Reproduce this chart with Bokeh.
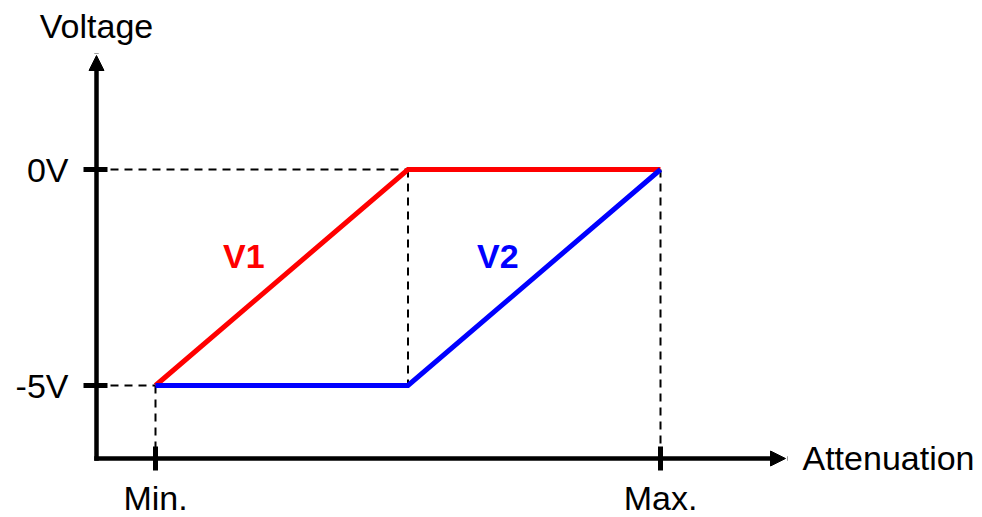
from bokeh.plotting import figure
from bokeh.models import Range1d, FixedTicker, Arrow, NormalHead, Label
from bokeh.embed import file_html
from bokeh.resources import INLINE

# ---- data ----
x_pts = [0.0, 0.5, 1.0]          # attenuation: Min., breakpoint, Max.
v1 = [-5, 0, 0]                  # V1 (volts)
v2 = [-5, -5, 0]                 # V2 (volts)
series_names = ["V1", "V2"]
x_ticks = [0, 1]
x_tick_labels = ["Min.", "Max."]
y_ticks = [-5, 0]
y_tick_labels = ["-5V", "0V"]
x_title = "Attenuation"
y_title = "Voltage"

FONT = "Liberation Sans"
FS = "34px"
RED = "#FF0000"
BLUE = "#0000FF"

# layout constants (pixels per unit and where the axes cross)
PX_X, PX_Y = 505.0, 43.2
W, H = 982, 517
x_lo, x_hi = -155 / PX_X, (W - 155) / PX_X
y_hi = 169 / PX_Y
y_lo = y_hi - H / PX_Y
xa, ya = -59 / PX_X, -289 / PX_Y           # axis crossing point
x_tip, y_tip = 630 / PX_X, 114 / PX_Y      # arrow tips

p = figure(width=W, height=H, output_backend="svg", toolbar_location=None,
           x_range=Range1d(x_lo, x_hi), y_range=Range1d(y_lo, y_hi),
           min_border=0, min_border_left=0, min_border_right=0,
           min_border_top=0, min_border_bottom=0)
p.outline_line_color = None
p.grid.visible = False
p.background_fill_color = "white"
p.border_fill_color = "white"

# dashed guide lines derived from the data
h_x1 = [min(x for x, a, b in zip(x_pts, v1, v2) if a == lvl or b == lvl) for lvl in y_ticks]
p.segment(x0=[xa] * len(y_ticks), y0=y_ticks, x1=h_x1, y1=y_ticks,
          line_color="black", line_width=2, line_dash="8 6")
v_top = [max(a, b) for a, b in zip(v1, v2)]
v_bot = [ya if x in x_ticks else min(a, b) for x, a, b in zip(x_pts, v1, v2)]
p.segment(x0=x_pts, y0=v_top, x1=x_pts, y1=v_bot,
          line_color="black", line_width=2, line_dash="8 6")

# series
p.line(x_pts, v1, line_color=RED, line_width=5, line_join="miter")
p.line(x_pts, v2, line_color=BLUE, line_width=5, line_join="miter")

# axes (ticks + labels) fixed at the crossing point
p.xaxis.fixed_location = ya
p.yaxis.fixed_location = xa
p.xaxis.ticker = FixedTicker(ticks=x_ticks)
p.xaxis.major_label_overrides = {t: l for t, l in zip(x_ticks, x_tick_labels)}
p.yaxis.ticker = FixedTicker(ticks=y_ticks)
p.yaxis.major_label_overrides = {t: l for t, l in zip(y_ticks, y_tick_labels)}
for ax in (p.xaxis, p.yaxis):
    ax.axis_line_color = None
    ax.minor_tick_line_color = None
    ax.major_tick_line_color = "black"
    ax.major_tick_line_width = 5
    ax.major_label_text_font = FONT
    ax.major_label_text_font_size = FS
    ax.major_label_text_color = "black"
p.xaxis.major_tick_in = 12
p.xaxis.major_tick_out = 12
p.xaxis.major_label_standoff = 8
p.yaxis.major_tick_in = 11
p.yaxis.major_tick_out = 13
p.yaxis.major_label_standoff = 15

# axis lines with arrow heads
for xe, ye in ((x_tip, ya), (xa, y_tip)):
    p.add_layout(Arrow(end=NormalHead(size=15, fill_color="black", line_color="black"),
                       x_start=xa, y_start=ya, x_end=xe, y_end=ye,
                       line_color="black", line_width=4.5, line_cap="square"))

# axis titles
p.add_layout(Label(x=xa, y=y_tip, y_offset=30, text=y_title, text_align="center",
                   text_baseline="alphabetic", text_font=FONT, text_font_size=FS,
                   text_color="black"))
p.add_layout(Label(x=x_tip, y=ya, x_offset=17, y_offset=1, text=x_title,
                   text_align="left", text_baseline="alphabetic", text_font=FONT,
                   text_font_size=FS, text_color="black"))

# series labels
p.add_layout(Label(x=0.175, y=-2.0, text=series_names[0], text_align="center",
                   text_baseline="alphabetic", text_font=FONT, text_font_size=FS,
                   text_font_style="bold", text_color=RED))
p.add_layout(Label(x=0.678, y=-2.0, text=series_names[1], text_align="center",
                   text_baseline="alphabetic", text_font=FONT, text_font_size=FS,
                   text_font_style="bold", text_color=BLUE))

open("out.html", "w").write(file_html(p, INLINE))
